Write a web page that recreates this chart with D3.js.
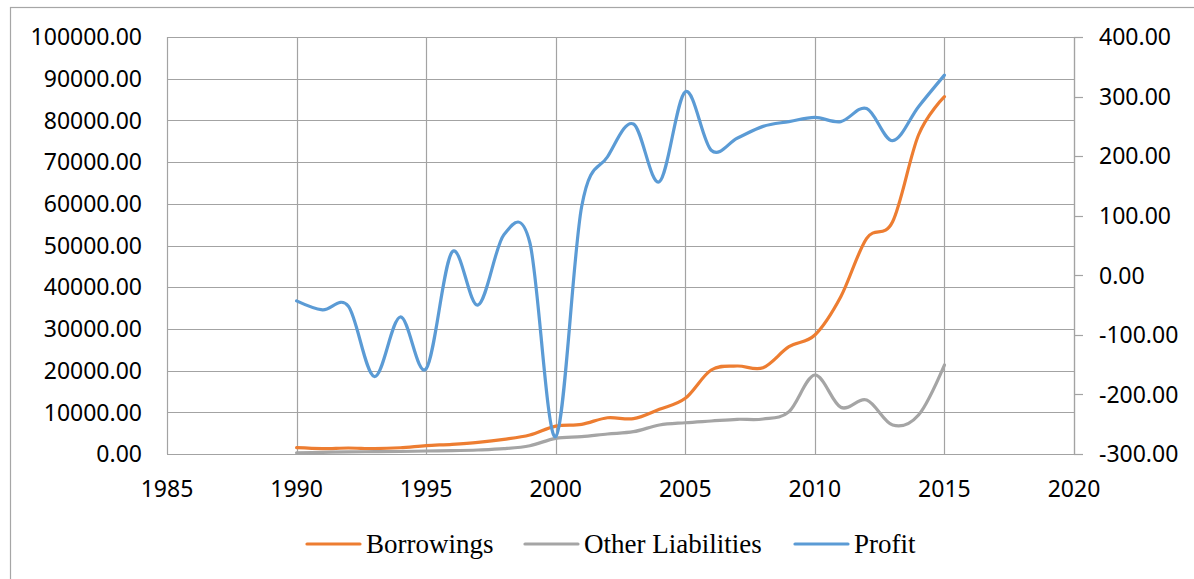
<!DOCTYPE html>
<html>
<head>
<meta charset="utf-8">
<script src="https://cdn.jsdelivr.net/npm/d3@7"></script>
<style>
  body { margin: 0; background: #fff; }
  .chart text { font-family: "Noto Sans", sans-serif; font-size: 23px; fill: #000; }
  .chart .legend text { font-family: "Liberation Serif", "Times New Roman", serif; font-size: 27px; }
  .grid line { stroke: #a3a3a3; stroke-width: 1.2; }
</style>
</head>
<body>
<div id="chart"></div>
<script>
// data
const years = [1990, 1991, 1992, 1993, 1994, 1995, 1996, 1997, 1998, 1999, 2000, 2001, 2002,
  2003, 2004, 2005, 2006, 2007, 2008, 2009, 2010, 2011, 2012, 2013, 2014, 2015];
const borrowings = [1510, 1300, 1440, 1300, 1500, 2000, 2330, 2800, 3520, 4560, 6700, 7120, 8700,
  8470, 10720, 13360, 20140, 21100, 20700, 25730, 28540, 37720, 51720, 55700, 76500, 85690];
const otherLiabilities = [300, 400, 500, 550, 600, 720, 800, 960, 1270, 1990, 3760, 4150, 4800,
  5350, 6950, 7500, 7910, 8320, 8390, 10140, 18940, 11200, 12950, 6950, 9350, 21340];
const profit = [-43, -58, -52, -170, -70, -157, 39, -50, 68, 55, -271, 115, 199,
  254, 157, 308, 210, 230, 250, 258, 265, 258, 280, 226, 283, 336];
const xTicks = [1985, 1990, 1995, 2000, 2005, 2010, 2015, 2020];
const leftTicks = d3.range(0, 100001, 10000);
const rightTicks = d3.range(-300, 401, 100);

const W = 1194, H = 579;
const margin = { top: 37, left: 167, right: W - 1074, bottom: H - 454 };
const width = W - margin.left - margin.right;
const height = H - margin.top - margin.bottom;

// excel style numbers, plain hyphen for negatives
const fmt = d => d3.format('.2f')(d).replace('\u2212', '-');

const svg = d3.select('#chart').append('svg')
    .attr('class', 'chart')
    .attr('width', W)
    .attr('height', H);

// outer chart-area border (right and bottom sit off the picture)
svg.append('rect')
    .attr('x', 10.5).attr('y', 7.5)
    .attr('width', 1200).attr('height', 600)
    .attr('fill', 'none').attr('stroke', '#a6a6a6').attr('stroke-width', 1.2);

const g = svg.append('g')
    .attr('transform', 'translate(' + margin.left + ',' + margin.top + ')');

const x = d3.scaleLinear().domain([1985, 2020]).range([0, width]);
const yL = d3.scaleLinear().domain([0, 100000]).range([height, 0]);
const yR = d3.scaleLinear().domain([-300, 400]).range([height, 0]);

// gridlines
const grid = g.append('g').attr('class', 'grid');
grid.selectAll('.h').data(leftTicks).enter().append('line')
    .attr('x1', 0).attr('x2', width)
    .attr('y1', d => Math.round(yL(d)) + 0.5).attr('y2', d => Math.round(yL(d)) + 0.5);
grid.selectAll('.v').data(xTicks).enter().append('line')
    .attr('y1', 0).attr('y2', height)
    .attr('x1', d => Math.round(x(d)) + 0.5).attr('x2', d => Math.round(x(d)) + 0.5);

// left axis labels
g.append('g').selectAll('text').data(leftTicks).enter().append('text')
    .attr('x', -25)
    .attr('y', d => yL(d))
    .attr('dy', '0.36em')
    .attr('text-anchor', 'end')
    .text(fmt);

// right axis line, ticks and labels
const right = g.append('g').attr('transform', 'translate(' + width + ',0)');
right.append('line')
    .attr('x1', 0.5).attr('x2', 0.5).attr('y1', 0).attr('y2', height)
    .attr('stroke', '#a3a3a3').attr('stroke-width', 1.2);
right.selectAll('line.tk').data(rightTicks).enter().append('line')
    .attr('class', 'tk')
    .attr('x1', 0).attr('x2', 9)
    .attr('y1', d => Math.round(yR(d)) + 0.5).attr('y2', d => Math.round(yR(d)) + 0.5)
    .attr('stroke', '#a3a3a3').attr('stroke-width', 1.2);
right.selectAll('text').data(rightTicks).enter().append('text')
    .attr('x', 25)
    .attr('y', d => yR(d))
    .attr('dy', '0.36em')
    .attr('text-anchor', 'start')
    .text(fmt);

// bottom labels
g.append('g').selectAll('text').data(xTicks).enter().append('text')
    .attr('x', d => x(d))
    .attr('y', height + 43)
    .attr('text-anchor', 'middle')
    .text(d => d);

// series
const series = [
  { name: 'Borrowings', values: borrowings, y: yL, color: '#ED7D31' },
  { name: 'Other Liabilities', values: otherLiabilities, y: yL, color: '#A5A5A5' },
  { name: 'Profit', values: profit, y: yR, color: '#5B9BD5' }
];

series.forEach(s => {
  const line = d3.line()
      .x((d, i) => x(years[i]))
      .y(d => s.y(d))
      .curve(d3.curveCatmullRom.alpha(0));
  g.append('path')
      .datum(s.values)
      .attr('fill', 'none')
      .attr('stroke', s.color)
      .attr('stroke-width', 3.2)
      .attr('stroke-linejoin', 'round')
      .attr('stroke-linecap', 'round')
      .attr('d', line);
});

// legend
const legendX = [307, 525, 795];
const legend = svg.append('g').attr('class', 'legend')
  .selectAll('g').data(series).enter().append('g')
    .attr('transform', (d, i) => 'translate(' + legendX[i] + ',544)');
legend.append('line')
    .attr('x1', 0).attr('x2', 53)
    .attr('stroke', d => d.color).attr('stroke-width', 3.2)
    .attr('stroke-linecap', 'round');
legend.append('text')
    .attr('x', 59)
    .attr('dy', '0.33em')
    .text(d => d.name);
</script>
</body>
</html>
